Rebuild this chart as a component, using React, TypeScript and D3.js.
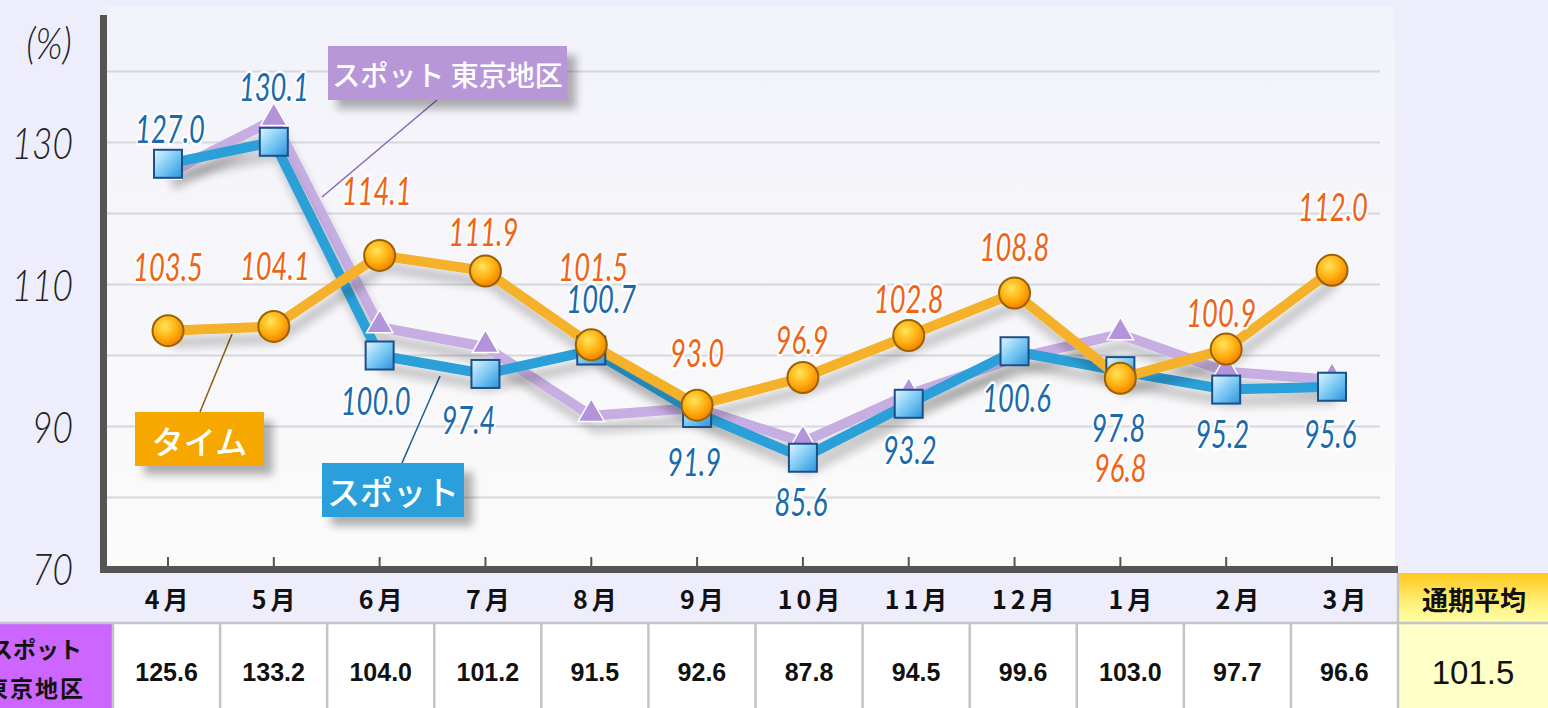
import React from 'react';
import * as d3 from 'd3';

const months = ['4月', '5月', '6月', '7月', '8月', '9月', '10月', '11月', '12月', '1月', '2月', '3月'];
const spotValues = [127.0, 130.1, 100.0, 97.4, 100.7, 91.9, 85.6, 93.2, 100.6, 97.8, 95.2, 95.6];
const timeValues = [103.5, 104.1, 114.1, 111.9, 101.5, 93.0, 96.9, 102.8, 108.8, 96.8, 100.9, 112.0];
const tokyoValues = [125.6, 133.2, 104.0, 101.2, 91.5, 92.6, 87.8, 94.5, 99.6, 103.0, 97.7, 96.6];
const tokyoAverage = 101.5;
const yTickValues = [70, 90, 110, 130];
const gridValues = [80, 90, 100, 110, 120, 130, 140];

// label placement (pixel offsets from each marker)
const spotLabelDy = [-36, -56, 45, 45, -52, 48, 43, 45, 46, 56, 44, 46];
const spotLabelDx = [2, 0, -4, -17, 10, -3, -2, 1, 2, -2, -4, -2];
const timeLabelDy = [-65, -61, -65, -40, -79, -53, -38, -38, -47, 89, -37, -64];
const timeLabelDx = [0, 1, -3, -2, 2, 0, -1, 0, 0, 0, -5, 1];

const W = 1548;
const H = 708;

const x = d3.scalePoint<string>().domain(months).range([168, 1332]);
const band = d3.scaleBand<string>().domain(months).range([113, 1398]);
const y = d3.scaleLinear().domain([70, 140]).range([568.5, 71.5]);

const lineGen = d3
  .line<number>()
  .x((_, i) => x(months[i]) as number)
  .y((d) => y(d));

const labelFont = "Lato, 'Open Sans', sans-serif";
const jpFont = "'Noto Sans CJK JP', 'Noto Sans', sans-serif";

function NumLabel({ cx, cy, text, color }: { cx: number; cy: number; text: string; color: string }) {
  return (
    <g transform={`translate(${cx},${cy}) scale(0.72,1)`}>
      <text
        textAnchor="middle"
        dominantBaseline="central"
        fontFamily={labelFont}
        fontStyle="italic"
        fontWeight={400}
        fontSize={38}
        fill={color}
        stroke="#ffffff"
        strokeWidth={5}
        strokeLinejoin="round"
        paintOrder="stroke"
      >
        {text}
      </text>
    </g>
  );
}

export default function App() {
  const plotLeft = 107;
  const plotRight = 1395;
  const gridRight = 1380;
  const headerTop = 573;
  const rowTop = 623;
  const triangle = d3.symbol().type(d3.symbolTriangle).size(300)() as string;

  return (
    <div style={{ position: 'fixed', left: 0, top: 0, width: W, height: H, background: '#ededfb' }}>
      <svg width={W} height={H} viewBox={`0 0 ${W} ${H}`} style={{ display: 'block' }}>
        <defs>
          <linearGradient id="plotBg" x1="0" y1="0" x2="0" y2="1">
            <stop offset="0" stopColor="#f2f2fa" />
            <stop offset="1" stopColor="#fbfbfb" />
          </linearGradient>
          <linearGradient id="sqGrad" x1="0" y1="0" x2="1" y2="1">
            <stop offset="0" stopColor="#e2f6ff" />
            <stop offset="0.5" stopColor="#7ccaf4" />
            <stop offset="1" stopColor="#2c92dc" />
          </linearGradient>
          <radialGradient id="circGrad" cx="0.4" cy="0.35" r="0.7">
            <stop offset="0" stopColor="#ffe45a" />
            <stop offset="0.55" stopColor="#ffb010" />
            <stop offset="1" stopColor="#f07a00" />
          </radialGradient>
          <linearGradient id="avgHead" x1="0" y1="0" x2="0" y2="1">
            <stop offset="0" stopColor="#ffc91c" />
            <stop offset="0.6" stopColor="#fff07a" />
            <stop offset="1" stopColor="#ffffa8" />
          </linearGradient>
          <filter id="lineShadow" filterUnits="userSpaceOnUse" x="0" y="0" width={W} height={H}>
            <feGaussianBlur in="SourceAlpha" stdDeviation="5" />
            <feOffset dx="4" dy="12" result="b" />
            <feComponentTransfer>
              <feFuncA type="linear" slope="0.22" />
            </feComponentTransfer>
            <feMerge>
              <feMergeNode />
              <feMergeNode in="SourceGraphic" />
            </feMerge>
          </filter>
          <filter id="boxShadow" filterUnits="userSpaceOnUse" x="0" y="0" width={W} height={H}>
            <feGaussianBlur in="SourceAlpha" stdDeviation="4" />
            <feOffset dx="9" dy="9" />
            <feComponentTransfer>
              <feFuncA type="linear" slope="0.3" />
            </feComponentTransfer>
            <feMerge>
              <feMergeNode />
              <feMergeNode in="SourceGraphic" />
            </feMerge>
          </filter>
        </defs>

        {/* plot background */}
        <rect x={plotLeft} y={6} width={plotRight - plotLeft} height={562} fill="url(#plotBg)" />

        {/* grid lines */}
        {gridValues.map((v) => (
          <line key={v} x1={plotLeft} x2={gridRight} y1={y(v)} y2={y(v)} stroke="#d6d6de" strokeWidth={2} />
        ))}

        {/* y axis labels */}
        <g transform="translate(49,42) scale(0.85,1)">
          <text textAnchor="middle" dominantBaseline="central" fontFamily={labelFont} fontStyle="italic" fontWeight={300} fontSize={44} fill="#222">
            (%)
          </text>
        </g>
        {yTickValues.map((v) => (
          <g key={v} transform={`translate(73,${y(v)}) scale(0.82,1)`}>
            <text textAnchor="end" dominantBaseline="central" fontFamily={labelFont} fontStyle="italic" fontWeight={300} fontSize={43} fill="#222">
              {v}
            </text>
          </g>
        ))}

        {/* leader lines */}
        <line x1={437} y1={100} x2={322} y2={197} stroke="#8a68b8" strokeWidth={1.5} />
        <line x1={200} y1={412} x2={232} y2={334} stroke="#8a5a10" strokeWidth={1.5} />
        <line x1={402} y1={463} x2={440} y2={376} stroke="#1a5a8a" strokeWidth={1.5} />

        {/* series lines */}
        <path d={lineGen(tokyoValues) as string} fill="none" stroke="#c7aee2" strokeWidth={10} strokeLinejoin="round" filter="url(#lineShadow)" />
        <path d={lineGen(spotValues) as string} fill="none" stroke="#2b9fd8" strokeWidth={10} strokeLinejoin="round" filter="url(#lineShadow)" />
        <path d={lineGen(timeValues) as string} fill="none" stroke="#f5b12a" strokeWidth={10} strokeLinejoin="round" filter="url(#lineShadow)" />

        {/* triangles */}
        {tokyoValues.map((v, i) => (
          <path
            key={'t' + i}
            d={triangle}
            transform={`translate(${x(months[i])},${y(v) - 2})`}
            fill="#b393da"
            stroke="#ffffff"
            strokeWidth={1.5}
          />
        ))}

        {/* squares */}
        {spotValues.map((v, i) => (
          <rect
            key={'s' + i}
            x={(x(months[i]) as number) - 14}
            y={y(v) - 14}
            width={28}
            height={28}
            fill="url(#sqGrad)"
            stroke="#1d4f86"
            strokeWidth={2}
          />
        ))}

        {/* circles */}
        {timeValues.map((v, i) => (
          <circle key={'c' + i} cx={x(months[i])} cy={y(v)} r={15.5} fill="url(#circGrad)" stroke="#9a6200" strokeWidth={2} />
        ))}

        {/* value labels */}
        {spotValues.map((v, i) => (
          <NumLabel
            key={'sl' + i}
            cx={(x(months[i]) as number) + spotLabelDx[i]}
            cy={y(v) + spotLabelDy[i]}
            text={v.toFixed(1)}
            color="#1b6aab"
          />
        ))}
        {timeValues.map((v, i) => (
          <NumLabel
            key={'tl' + i}
            cx={(x(months[i]) as number) + timeLabelDx[i]}
            cy={y(v) + timeLabelDy[i]}
            text={v.toFixed(1)}
            color="#f06418"
          />
        ))}

        {/* legend boxes */}
        <g filter="url(#boxShadow)">
          <rect x={328} y={46} width={239} height={54} fill="#b897d9" />
        </g>
        <text x={447.5} y={74} textAnchor="middle" dominantBaseline="central" fontFamily={jpFont} fontWeight={500} fontSize={28} fill="#ffffff">
          スポット 東京地区
        </text>
        <g filter="url(#boxShadow)">
          <rect x={135} y={412} width={129} height={54} fill="#f6a800" />
        </g>
        <text x={199.5} y={440} textAnchor="middle" dominantBaseline="central" fontFamily={jpFont} fontWeight={500} fontSize={32} fill="#ffffff">
          タイム
        </text>
        <g filter="url(#boxShadow)">
          <rect x={322} y={463} width={142} height={54} fill="#2a9fdb" />
        </g>
        <text x={393} y={491} textAnchor="middle" dominantBaseline="central" fontFamily={jpFont} fontWeight={500} fontSize={33} fill="#ffffff">
          スポット
        </text>

        {/* axes */}
        <line x1={103.5} x2={103.5} y1={15} y2={573} stroke="#555555" strokeWidth={7} />
        <line x1={100} x2={1398} y1={569.5} y2={569.5} stroke="#555555" strokeWidth={7} />
        {months.map((m) => (
          <line key={'tk' + m} x1={x(m)} x2={x(m)} y1={566} y2={557} stroke="#555555" strokeWidth={2} />
        ))}

        {/* table header */}
        {months.map((m) => (
          <text
            key={'h' + m}
            x={(band(m) as number) + band.bandwidth() / 2 + 2}
            y={598}
            textAnchor="middle"
            dominantBaseline="central"
            fontFamily={jpFont}
            fontWeight={700}
            fontSize={25}
            letterSpacing={4}
            fill="#111"
          >
            {m}
          </text>
        ))}
        <rect x={1398} y={headerTop} width={W - 1398} height={rowTop - headerTop} fill="url(#avgHead)" />
        <text x={1474} y={598} textAnchor="middle" dominantBaseline="central" fontFamily={jpFont} fontWeight={700} fontSize={26} fill="#111">
          通期平均
        </text>

        {/* table row */}
        <rect x={0} y={rowTop} width={113} height={H - rowTop} fill="#cc66ff" />
        <rect x={113} y={rowTop} width={1398 - 113} height={H - rowTop} fill="#ffffff" />
        <rect x={1398} y={rowTop} width={W - 1398} height={H - rowTop} fill="#ffffc8" />
        <text x={36} y={648} textAnchor="middle" dominantBaseline="central" fontFamily={jpFont} fontWeight={700} fontSize={23} fill="#111">
          スポット
        </text>
        <text x={35} y={687} textAnchor="middle" dominantBaseline="central" fontFamily={jpFont} fontWeight={700} fontSize={23} letterSpacing={2} fill="#111">
          東京地区
        </text>
        {tokyoValues.map((v, i) => (
          <text
            key={'v' + i}
            x={(band(months[i]) as number) + band.bandwidth() / 2}
            y={672}
            textAnchor="middle"
            dominantBaseline="central"
            fontFamily="'Liberation Sans', Arial, sans-serif"
            fontWeight={700}
            fontSize={25}
            fill="#111"
          >
            {v.toFixed(1)}
          </text>
        ))}
        <text x={1473} y={672} textAnchor="middle" dominantBaseline="central" fontFamily="'Liberation Sans', Arial, sans-serif" fontWeight={500} fontSize={33} fill="#111">
          {tokyoAverage.toFixed(1)}
        </text>

        {/* table grid */}
        <line x1={0} x2={W} y1={rowTop} y2={rowTop} stroke="#c4c4c8" strokeWidth={2.5} />
        {[...months.map((m) => band(m) as number), 1398].map((bx, i) => (
          <line key={'g' + i} x1={bx} x2={bx} y1={rowTop} y2={H} stroke="#c4c4c8" strokeWidth={2.5} />
        ))}
        <line x1={1398} x2={1398} y1={headerTop} y2={rowTop} stroke="#c4c4c8" strokeWidth={2.5} />
      </svg>
    </div>
  );
}
